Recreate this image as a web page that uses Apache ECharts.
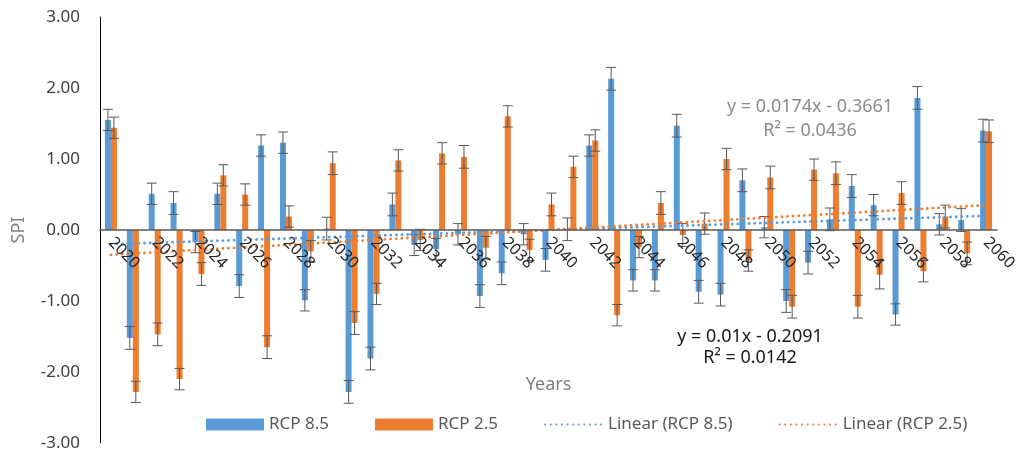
<!DOCTYPE html>
<html>
<head>
<meta charset="utf-8">
<style>
  html, body { margin: 0; padding: 0; background: #fff; }
  #chart { width: 1029px; height: 455px; }
</style>
<script src="https://cdn.jsdelivr.net/npm/echarts@6/dist/echarts.min.js"></script>
</head>
<body>
<div id="chart"></div>
<script>
// years 2020..2060
const years = [
  "2020", "2021", "2022", "2023", "2024", "2025", "2026", "2027", "2028", "2029",
  "2030", "2031", "2032", "2033", "2034", "2035", "2036", "2037", "2038", "2039",
  "2040", "2041", "2042", "2043", "2044", "2045", "2046", "2047", "2048", "2049",
  "2050", "2051", "2052", "2053", "2054", "2055", "2056", "2057", "2058", "2059",
  "2060",
];

const rcp85 = [
  1.55, -1.52, 0.51, 0.38, -0.17, 0.51, -0.79, 1.19, 1.23, -0.99,
  0.02, -2.28, -1.81, 0.36, -0.21, -0.27, -0.06, -0.93, -0.61, -0.06,
  -0.42, 0.01, 1.19, 2.13, -0.71, -0.71, 1.47, -0.87, -0.91, 0.70,
  0.04, -1.00, -0.46, 0.15, 0.62, 0.35, -1.19, 1.86, 0.08, 0.14,
  1.40,
];

const rcp25 = [
  1.44, -2.28, -1.47, -2.10, -0.62, 0.77, 0.50, -1.65, 0.19, -0.30,
  0.94, -1.31, -0.90, 0.98, -0.14, 1.08, 1.03, -0.25, 1.60, -0.28,
  0.36, 0.89, 1.26, -1.20, -0.24, 0.38, -0.07, 0.09, 1.00, -0.43,
  0.74, -1.08, 0.85, 0.80, -1.08, -0.63, 0.52, -0.58, 0.19, -0.33,
  1.39,
];

// error bar half-lengths
const err85 = [
  0.15, 0.16, 0.15, 0.16, 0.15, 0.15, 0.16, 0.15, 0.15, 0.15,
  0.16, 0.16, 0.16, 0.16, 0.15, 0.15, 0.15, 0.16, 0.16, 0.15,
  0.16, 0.16, 0.15, 0.16, 0.15, 0.15, 0.16, 0.16, 0.16, 0.16,
  0.15, 0.16, 0.16, 0.16, 0.16, 0.15, 0.15, 0.16, 0.15, 0.16,
  0.16,
];
const err25 = [
  0.15, 0.15, 0.16, 0.15, 0.16, 0.15, 0.15, 0.16, 0.15, 0.15,
  0.16, 0.16, 0.15, 0.15, 0.15, 0.15, 0.16, 0.16, 0.15, 0.15,
  0.16, 0.15, 0.15, 0.15, 0.15, 0.16, 0.16, 0.15, 0.15, 0.15,
  0.16, 0.16, 0.15, 0.16, 0.16, 0.2, 0.16, 0.15, 0.16, 0.16,
  0.16,
];

// trend line ends (first year, last year)
const trend85 = [-0.2, 0.2];
const trend25 = [-0.35, 0.35];

const eq85 = ["y = 0.01x - 0.2091", "R² = 0.0142"];
const eq25 = ["y = 0.0174x - 0.3661", "R² = 0.0436"];

const yTicks = { min: -3, max: 3, step: 1 };

const blue = "#5B9BD5";
const orange = "#ED7D31";
const font = '"Noto Sans", sans-serif';
const dots = { type: [0.1, 5.5], width: 2.8, cap: "round" };

// plot box
const gridTop = 17;
const gridBottom = 12;
const plotH = 455 - gridTop - gridBottom;

function errorBars(values, errs, offset) {
  return {
    type: "custom",
    silent: true,
    z: 4,
    data: values.map((v, i) => [i, v, errs[i]]),
    renderItem(params, api) {
      const i = api.value(0);
      const v = api.value(1);
      const e = api.value(2);
      const top = api.coord([i, v + e]);
      const bot = api.coord([i, v - e]);
      const x = top[0] + offset;
      const cap = 5;
      const style = { stroke: "#595959", lineWidth: 1 };
      return {
        type: "group",
        children: [
          { type: "line", shape: { x1: x, y1: top[1], x2: x, y2: bot[1] }, style },
          { type: "line", shape: { x1: x - cap, y1: top[1], x2: x + cap, y2: top[1] }, style },
          { type: "line", shape: { x1: x - cap, y1: bot[1], x2: x + cap, y2: bot[1] }, style },
        ],
      };
    },
  };
}

function eqText(text, x, y, color) {
  return {
    type: "text",
    x,
    y,
    style: { text, fill: color, fontSize: 18, fontFamily: font, align: "center", verticalAlign: "middle" },
  };
}

const chart = echarts.init(document.getElementById("chart"), null, { renderer: "canvas" });

chart.setOption({
  backgroundColor: "#fff",
  animation: false,
  textStyle: { fontFamily: font },
  grid: { left: 100, right: 32, top: gridTop, bottom: gridBottom, outerBoundsMode: "none", containLabel: false },
  legend: {
    left: 201,
    top: 411,
    itemWidth: 58,
    itemHeight: 12,
    itemGap: 46,
    textStyle: { color: "#595959", fontSize: 17, fontFamily: font },
    data: [
      { name: "RCP 8.5", icon: "rect" },
      { name: "RCP 2.5", icon: "rect" },
      { name: "Linear (RCP 8.5)", itemStyle: { opacity: 0 } },
      { name: "Linear (RCP 2.5)", itemStyle: { opacity: 0 } },
    ],
  },
  xAxis: {
    type: "category",
    data: years,
    z: 10,
    name: "Years",
    nameLocation: "middle",
    nameGap: 146,
    nameTextStyle: { color: "#7f7f7f", fontSize: 18 },
    // sit the axis on the zero line (middle of the -3..3 range)
    offset: -plotH / 2,
    axisLine: { onZero: false, lineStyle: { color: "#595959", width: 1.5 } },
    axisTick: { show: false },
    axisLabel: { interval: 1, rotate: -45, margin: 10, color: "#262626", fontSize: 16 },
    splitLine: { show: false },
  },
  yAxis: {
    type: "value",
    min: yTicks.min,
    max: yTicks.max,
    interval: yTicks.step,
    name: "SPI",
    nameLocation: "middle",
    nameGap: 72,
    nameTextStyle: { color: "#7f7f7f", fontSize: 18 },
    axisLine: { show: true, lineStyle: { color: "#000", width: 1 } },
    axisTick: { show: false },
    axisLabel: { margin: 20, color: "#404040", fontSize: 17, formatter: (v) => v.toFixed(2) },
    splitLine: { show: false },
  },
  series: [
    {
      name: "RCP 8.5",
      type: "bar",
      barWidth: 6,
      barGap: "0%",
      itemStyle: { color: blue },
      data: rcp85,
    },
    {
      name: "RCP 2.5",
      type: "bar",
      barWidth: 6,
      barGap: "0%",
      itemStyle: { color: orange },
      data: rcp25,
    },
    errorBars(rcp85, err85, -3),
    errorBars(rcp25, err25, 3),
    {
      name: "Linear (RCP 8.5)",
      type: "line",
      symbol: "none",
      z: 6,
      itemStyle: { color: blue },
      lineStyle: { color: blue, ...dots },
      data: [[years[0], trend85[0]], [years[years.length - 1], trend85[1]]],
    },
    {
      name: "Linear (RCP 2.5)",
      type: "line",
      symbol: "none",
      z: 6,
      itemStyle: { color: orange },
      lineStyle: { color: orange, ...dots },
      data: [[years[0], trend25[0]], [years[years.length - 1], trend25[1]]],
    },
  ],
  graphic: [
    eqText(eq25[0], 810, 107, "#8c8c8c"),
    eqText(eq25[1], 810, 131, "#8c8c8c"),
    eqText(eq85[0], 750, 337, "#1a1a1a"),
    eqText(eq85[1], 750, 358, "#1a1a1a"),
  ],
});
</script>
</body>
</html>
